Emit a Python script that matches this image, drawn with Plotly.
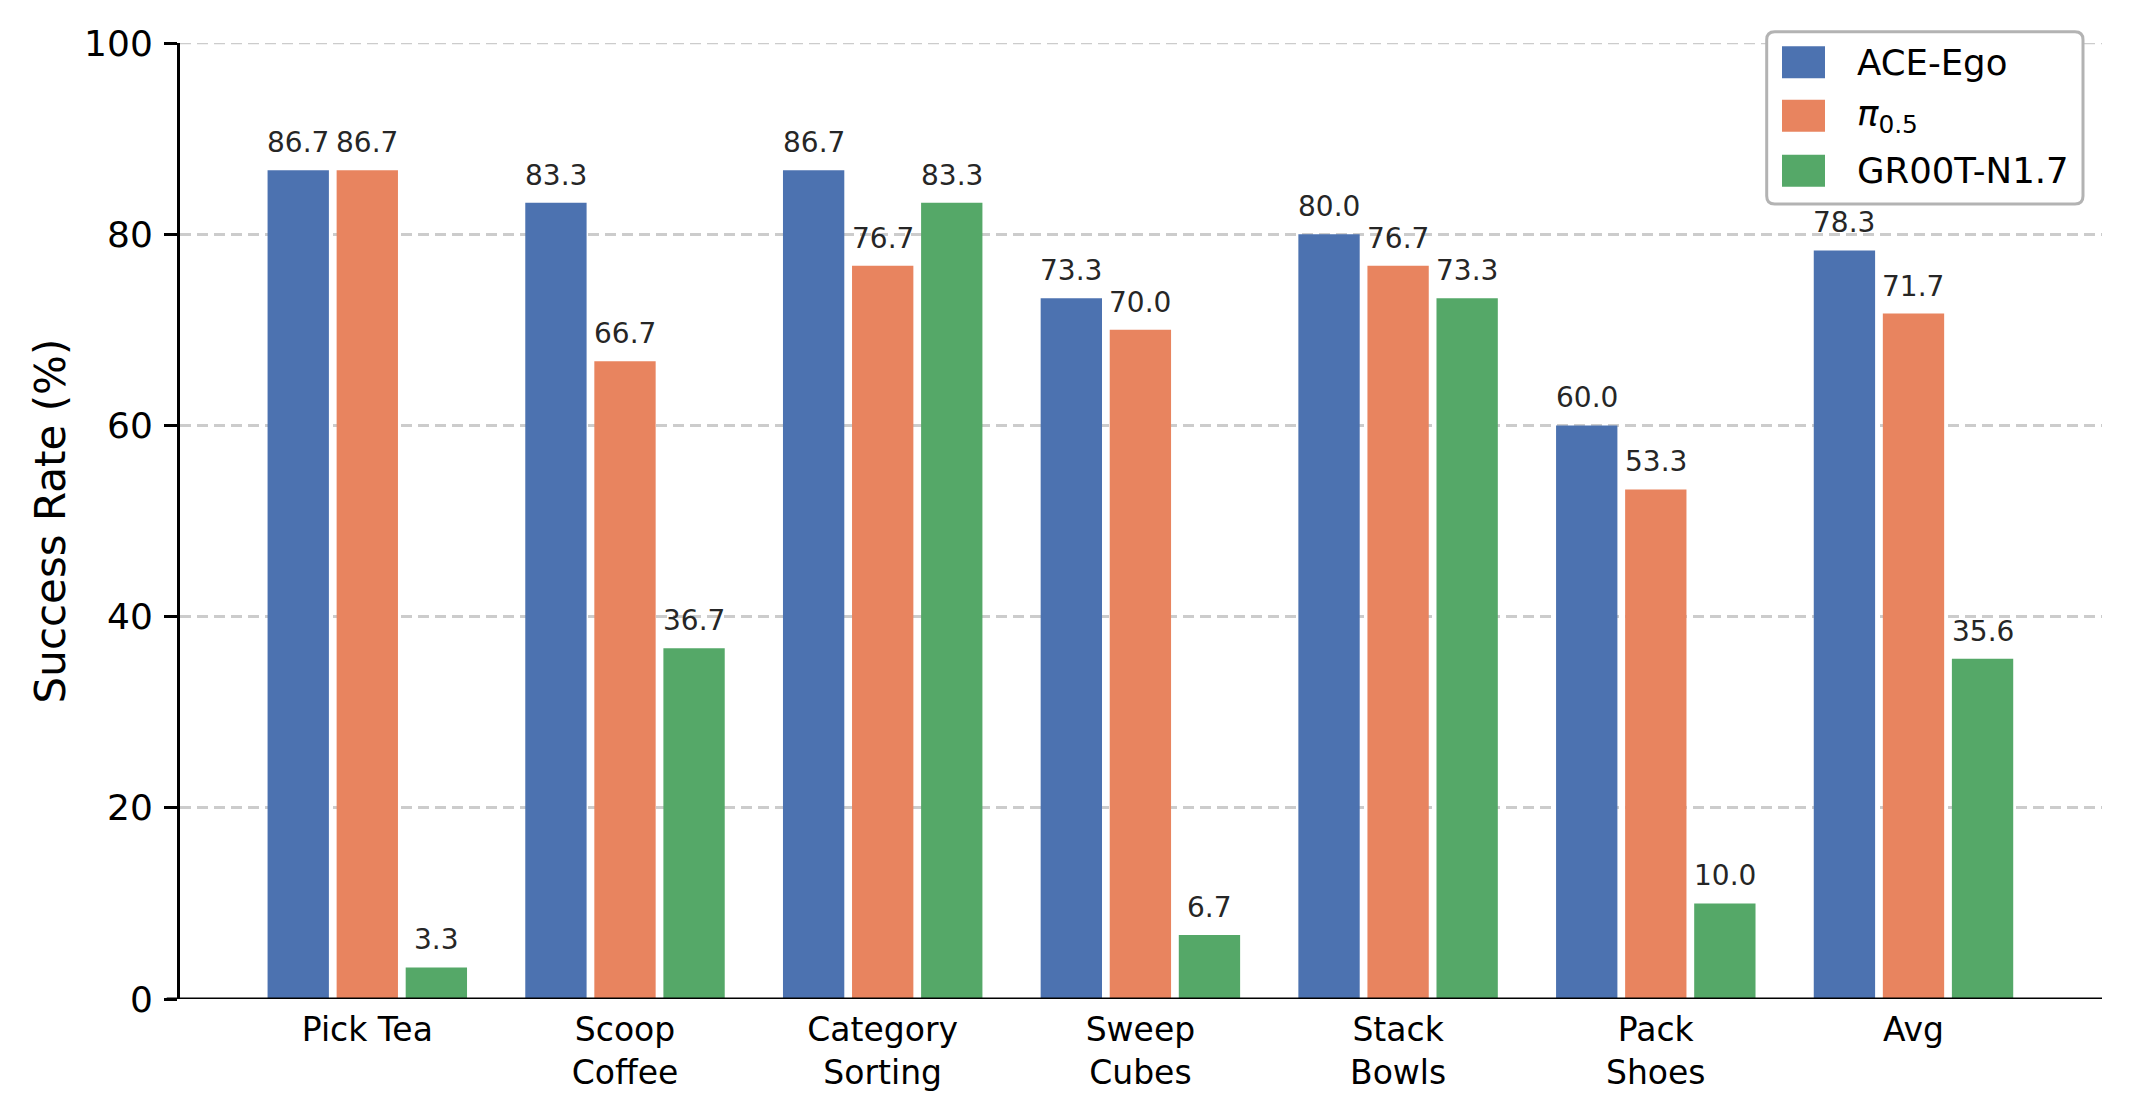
import plotly.graph_objects as go
import numpy as np

categories = ["Pick Tea", "Scoop<br>Coffee", "Category<br>Sorting", "Sweep<br>Cubes",
              "Stack<br>Bowls", "Pack<br>Shoes", "Avg"]
series_names = ["ACE-Ego", "<i>π</i><sub>0.5</sub>", "GR00T-N1.7"]
ace_ego = [86.7, 83.3, 86.7, 73.3, 80.0, 60.0, 78.3]
pi05 = [86.7, 66.7, 76.7, 70.0, 76.7, 53.3, 71.7]
groot = [3.3, 36.7, 83.3, 6.7, 73.3, 10.0, 35.6]
y_ticks = [0, 20, 40, 60, 80, 100]

colors = ["#4C72B0", "#E8845F", "#55A868"]
series = [ace_ego, pi05, groot]
offsets = [-0.268, 0.0, 0.268]
bar_w = 0.238
FONT = "DejaVu Sans"

W, H = 2130, 1118
ML, MR, MT, MB = 180, 28, 43, 119
PW, PH = W - ML - MR, H - MT - MB


def px(x):
    return (x - ML) / PW


def py(y):
    return (H - MB - y) / PH


idx = np.arange(len(categories))
fig = go.Figure()
annotations = []
for name, vals, col, off in zip(series_names, series, colors, offsets):
    xs = idx + off
    fig.add_trace(go.Bar(x=xs, y=vals, width=bar_w, name=name,
                         marker=dict(color=col, line=dict(width=0)),
                         showlegend=False))
    for xv, v in zip(xs, vals):
        annotations.append(dict(x=xv, y=v, xref="x", yref="y", text=f"{v:.1f}",
                                showarrow=False, yanchor="bottom", yshift=9,
                                font=dict(family=FONT, size=28, color="#262626")))

shapes = []
# top gridline at 100 (plotly skips the grid line at the range edge)
shapes.append(dict(type="line", xref="paper", yref="y", x0=0, x1=1, y0=y_ticks[-1], y1=y_ticks[-1],
                   line=dict(color="#cccccc", width=2.5, dash="11px,6px"), layer="below"))
# bottom spine (extends slightly left of the y-axis)
shapes.append(dict(type="line", xref="paper", yref="y", x0=px(166.7), x1=1, y0=0, y1=0,
                   line=dict(color="black", width=3), layer="above"))

# legend box with rounded corners
bx0, bx1, by0, by1 = px(1766.7), px(2083), py(204), py(31.7)
rx, ry = 8 / PW, 8 / PH
path = (f"M {bx0+rx},{by1} L {bx1-rx},{by1} Q {bx1},{by1} {bx1},{by1-ry} "
        f"L {bx1},{by0+ry} Q {bx1},{by0} {bx1-rx},{by0} "
        f"L {bx0+rx},{by0} Q {bx0},{by0} {bx0},{by0+ry} "
        f"L {bx0},{by1-ry} Q {bx0},{by1} {bx0+rx},{by1} Z")
shapes.append(dict(type="path", xref="paper", yref="paper", path=path,
                   fillcolor="white", line=dict(color="#b3b3b3", width=3), layer="above"))
row_centers = [62.2, 115.8, 170.8]
for name, col, rc in zip(series_names, colors, row_centers):
    shapes.append(dict(type="rect", xref="paper", yref="paper",
                       x0=px(1782), x1=px(1825), y0=py(rc + 16), y1=py(rc - 16),
                       fillcolor=col, line=dict(width=0), layer="above"))
    annotations.append(dict(x=px(1855), y=py(rc), xref="paper", yref="paper", text=name,
                            showarrow=False, xanchor="left", yanchor="middle",
                            font=dict(family=FONT, size=35.5, color="black")))

fig.update_layout(
    width=W, height=H,
    margin=dict(l=ML, r=MR, t=MT, b=MB),
    paper_bgcolor="white", plot_bgcolor="white",
    barmode="overlay",
    font=dict(family=FONT, color="black"),
    shapes=shapes, annotations=annotations,
    xaxis=dict(range=[-0.7268, 6.7315], tickmode="array", tickvals=idx, ticktext=categories,
               showline=False, showgrid=False, zeroline=False, ticks="", ticklen=0,
               ticklabelstandoff=8,
               tickfont=dict(family=FONT, size=33, color="black")),
    yaxis=dict(range=[0, 100], tickmode="array", tickvals=y_ticks,
               showline=True, linecolor="black", linewidth=3,
               ticks="outside", ticklen=13, tickwidth=3, tickcolor="black",
               ticklabelstandoff=4,
               showgrid=True, gridcolor="#cccccc", gridwidth=2.5, griddash="11px,6px",
               zeroline=False,
               tickfont=dict(family=FONT, size=36, color="black"),
               title=dict(text="Success Rate (%)", standoff=6,
                          font=dict(family=FONT, size=42, color="black"))),
)

fig.write_html("out.html")
